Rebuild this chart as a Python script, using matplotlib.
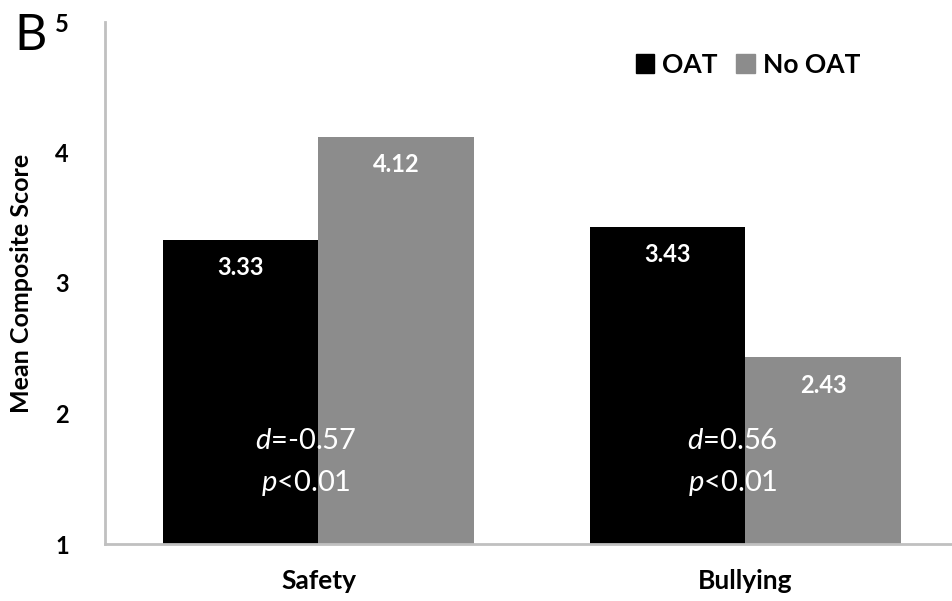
import matplotlib.pyplot as plt
from matplotlib.patches import Patch
import numpy as np

plt.rcParams['font.family'] = ['Lato', 'DejaVu Sans']
plt.rcParams['mathtext.fontset'] = 'custom'
plt.rcParams['mathtext.it'] = 'Lato:italic'
plt.rcParams['mathtext.rm'] = 'Lato'

categories = ['Safety', 'Bullying']
oat = [3.33, 3.43]
no_oat = [4.12, 2.43]
effect_d = ['-0.57', '0.56']
p_text = ['<0.01', '<0.01']

fig = plt.figure(figsize=(9.53, 6.01), dpi=100)
ax = fig.add_axes([105 / 953, 57 / 601, 854 / 953, 522 / 601])

x = np.arange(len(categories))
w = 0.365
ax.bar(x - w / 2, np.array(oat) - 1, w, bottom=1, color='black', label='OAT')
ax.bar(x + w / 2, np.array(no_oat) - 1, w, bottom=1, color='#8c8c8c', label='No OAT')

# value labels inside the top of each bar
for xi, v in zip(x - w / 2, oat):
    ax.annotate(f'{v:.2f}', (xi, v), xytext=(0, -28), textcoords='offset pixels',
                ha='center', va='center', color='white', fontsize=17, fontweight='bold')
for xi, v in zip(x + w / 2, no_oat):
    ax.annotate(f'{v:.2f}', (xi, v), xytext=(0, -28), textcoords='offset pixels',
                ha='center', va='center', color='white', fontsize=17, fontweight='bold')

# effect size and significance
for xi, d, p in zip(x, effect_d, p_text):
    ax.text(xi - 0.03, 1.79, f'$d$={d}', ha='center', va='center', color='white', fontsize=21)
    ax.text(xi - 0.03, 1.47, f'$p${p}', ha='center', va='center', color='white', fontsize=21)

ax.set_xlim(-0.5, 1.5)
ax.set_ylim(1, 5)
ax.set_yticks([1, 2, 3, 4, 5])
ax.set_xticks(x)
ax.set_xticklabels(categories, fontsize=19, fontweight='bold')
ax.tick_params(axis='y', labelsize=17, length=0, pad=26)
ax.tick_params(axis='x', length=0, pad=18)
for lbl in ax.get_yticklabels():
    lbl.set_fontweight('bold')
ax.set_ylabel('Mean Composite Score', fontsize=18, fontweight='bold', labelpad=16)

for s in ['top', 'right']:
    ax.spines[s].set_visible(False)
for s in ['left', 'bottom']:
    ax.spines[s].set_color('#c0c0c0')
    ax.spines[s].set_linewidth(2)

handles = [Patch(color='black'), Patch(color='#8c8c8c')]
ax.legend(handles, ['OAT', 'No OAT'], loc='upper left', bbox_to_anchor=(0.594, 0.987),
          ncol=2, frameon=False, handlelength=0.7, handleheight=0.7,
          handletextpad=0.3, columnspacing=0.7, prop={'weight': 'bold', 'size': 19})

fig.text(14 / 953, 1 - 50 / 601, 'B', fontsize=36)

fig.savefig('out.png', dpi=100)
